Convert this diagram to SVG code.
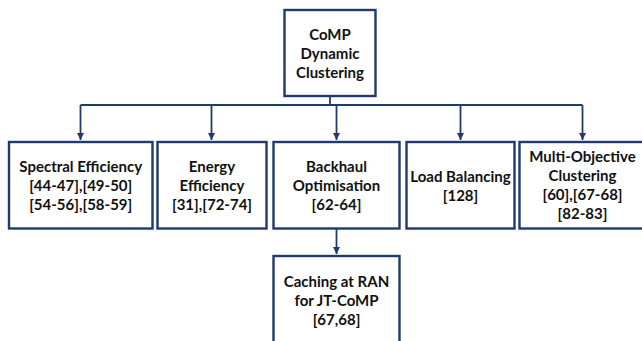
<svg xmlns="http://www.w3.org/2000/svg" width="642" height="341" viewBox="0 0 642 341">
<defs>
<style>
.box{fill:#ffffff;stroke:#1f3a6b;stroke-width:2.4}
.t{font-family:Lato,"Liberation Sans",sans-serif;font-weight:bold;font-size:15px;fill:#111111;text-anchor:middle}
.c{fill:none;stroke:#1f3a6b;stroke-width:1.8}
</style>
<marker id="ah" markerWidth="8" markerHeight="8" refX="7" refY="4" orient="auto" markerUnits="userSpaceOnUse">
<path d="M0,0.5 L7,4 L0,7.5 Z" fill="#1f3a6b"/>
</marker>
</defs>
<rect width="642" height="341" fill="#ffffff"/>
<g id="connectors">
<path class="c" d="M330,96 V105"/>
<path class="c" d="M80.5,105 H582.5"/>
<path class="c" d="M80.5,105 V140" marker-end="url(#ah)"/>
<path class="c" d="M211.5,105 V140" marker-end="url(#ah)"/>
<path class="c" d="M336.5,105 V140" marker-end="url(#ah)"/>
<path class="c" d="M460.5,105 V140" marker-end="url(#ah)"/>
<path class="c" d="M582.5,105 V140" marker-end="url(#ah)"/>
<path class="c" d="M336.5,229 V254" marker-end="url(#ah)"/>
</g>
<g id="root">
<rect class="box" x="284.5" y="10" width="91" height="86"/>
<text class="t" x="330" y="39.5">CoMP</text>
<text class="t" x="330" y="58.5">Dynamic</text>
<text class="t" x="330" y="77.5">Clustering</text>
</g>
<g id="spectral">
<rect class="box" x="9" y="142" width="143.5" height="86.5"/>
<text class="t" x="80.7" y="172">Spectral Efficiency</text>
<text class="t" x="80.7" y="191">[44-47],[49-50]</text>
<text class="t" x="80.7" y="210">[54-56],[58-59]</text>
</g>
<g id="energy">
<rect class="box" x="157.5" y="142" width="109" height="86.5"/>
<text class="t" x="212" y="172">Energy</text>
<text class="t" x="212" y="191">Efficiency</text>
<text class="t" x="212" y="210">[31],[72-74]</text>
</g>
<g id="backhaul">
<rect class="box" x="273.5" y="142" width="126" height="86.5"/>
<text class="t" x="336.5" y="172">Backhaul</text>
<text class="t" x="336.5" y="191">Optimisation</text>
<text class="t" x="336.5" y="210">[62-64]</text>
</g>
<g id="load">
<rect class="box" x="406.5" y="142" width="108" height="86.5"/>
<text class="t" x="460.5" y="181.5">Load Balancing</text>
<text class="t" x="460.5" y="200.5">[128]</text>
</g>
<g id="multi">
<rect class="box" x="519.5" y="142" width="126" height="86.5"/>
<text class="t" x="582.5" y="162">Multi-Objective</text>
<text class="t" x="582.5" y="181">Clustering</text>
<text class="t" x="582.5" y="200">[60],[67-68]</text>
<text class="t" x="582.5" y="219">[82-83]</text>
</g>
<g id="caching">
<rect class="box" x="273.5" y="256" width="126" height="90"/>
<text class="t" x="336.5" y="286.5">Caching at RAN</text>
<text class="t" x="336.5" y="305.5">for JT-CoMP</text>
<text class="t" x="336.5" y="324.5">[67,68]</text>
</g>
</svg>
